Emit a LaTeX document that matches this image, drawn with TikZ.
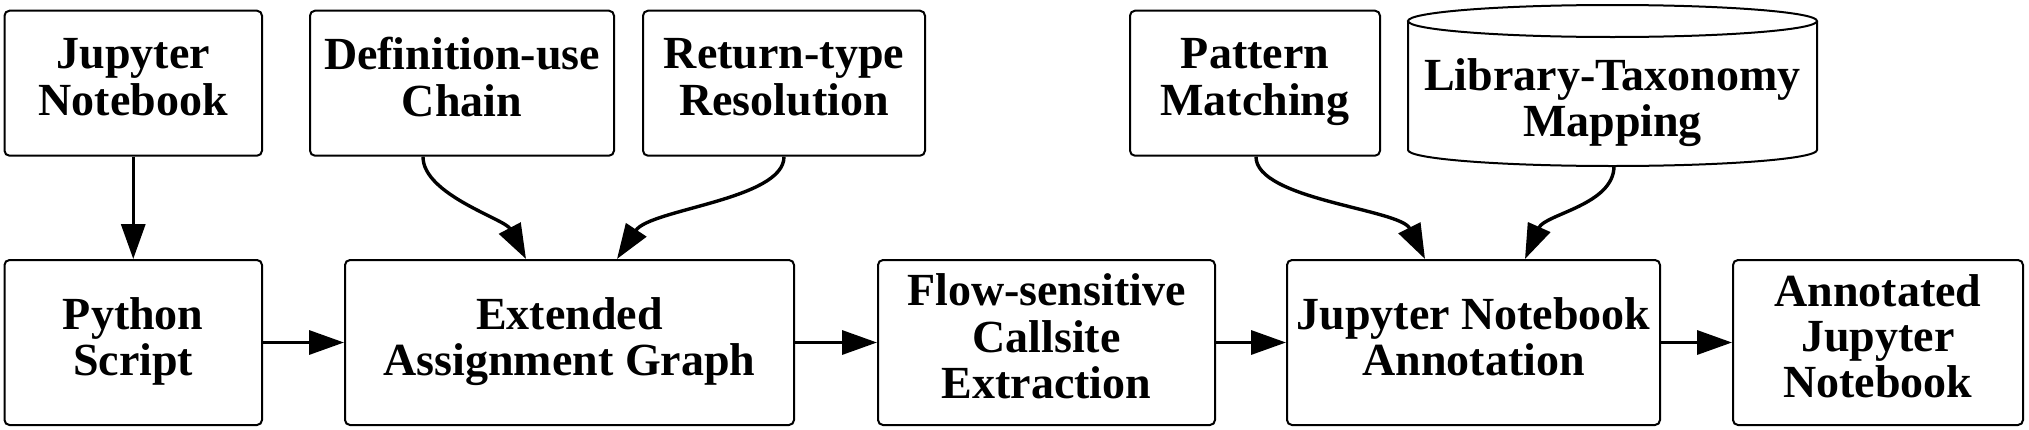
\documentclass[tikz,border=0pt]{standalone}
\usepackage{fontspec}
\setmainfont{Liberation Serif}
\usetikzlibrary{arrows.meta}
\tikzset{
  box/.style={draw, line width=1pt, rounded corners=2.5pt, align=center, inner sep=0pt,
    font=\fontsize{23pt}{20.75pt}\selectfont\bfseries},
  txt/.style={align=center, inner sep=0pt, font=\fontsize{23pt}{20.75pt}\selectfont\bfseries},
  cyl/.style={draw, line width=1pt},
  edge/.style={line width=1.7pt, -{Triangle[length=17.5pt, width=12pt]}},
}
\begin{document}
\begin{tikzpicture}[x=0.5pt, y=-0.5pt]
\useasboundingbox (0,0) rectangle (2029,429);
% top row
\node[box, minimum width=128.75pt, minimum height=72.5pt] (jn) at (133.25,83.2) {\strut Jupyter\\\strut Notebook};
\node[box, minimum width=152pt, minimum height=72.5pt] (du) at (462,83.2) {\strut Definition-use\\\strut Chain};
\node[box, minimum width=141pt, minimum height=72.5pt] (rt) at (784,83.2) {\strut Return-type\\\strut Resolution};
\node[box, minimum width=125pt, minimum height=72.5pt] (pm) at (1255,83.2) {\strut Pattern\\\strut Matching};
% cylinder
\draw[cyl] (1612.5,21) ellipse[x radius=204.5, y radius=16];
\draw[cyl] (1408,21) -- (1408,150) arc[start angle=180, end angle=0, x radius=204.5, y radius=16] -- (1817,21);
\node[txt] (lib) at (1612.5,104) {\strut Library-Taxonomy\\\strut Mapping};
\coordinate (libbot) at (1614,166);
% bottom row
\node[box, minimum width=128.75pt, minimum height=82.5pt] (ps) at (133.25,342.5) {\strut Python\\\strut Script};
\node[box, minimum width=224.5pt, minimum height=82.5pt] (eag) at (569.5,342.5) {\strut Extended\\\strut Assignment Graph};
\node[box, minimum width=168.5pt, minimum height=82.5pt] (fs) at (1046.5,342.5) {\strut Flow-sensitive\\\strut Callsite\\\strut Extraction};
\node[box, minimum width=186.5pt, minimum height=82.5pt] (jna) at (1473.5,342.5) {\strut Jupyter Notebook\\\strut Annotation};
\node[box, minimum width=145pt, minimum height=82.5pt] (an) at (1878,342.5) {\strut Annotated\\\strut Jupyter\\\strut Notebook};
% connectors
\draw[edge] (jn.south) -- (ps.north);
\draw[edge] (ps) -- (eag);
\draw[edge] (eag) -- (fs);
\draw[edge] (fs) -- (jna);
\draw[edge] (jna) -- (an);
\draw[edge] ([xshift=-19.5pt]du.south) .. controls +(0,38) and +(-21,-40) .. ([xshift=-21.75pt]eag.north);
\draw[edge] (rt.south) .. controls +(0,43) and +(33,-50) .. ([xshift=23.75pt]eag.north);
\draw[edge] ([xshift=0.5pt]pm.south) .. controls +(0,43) and +(-25,-50) .. ([xshift=-24.25pt]jna.north);
\draw[edge] (libbot) .. controls +(0,39) and +(20,-45) .. ([xshift=25.75pt]jna.north);
\end{tikzpicture}
\end{document}
